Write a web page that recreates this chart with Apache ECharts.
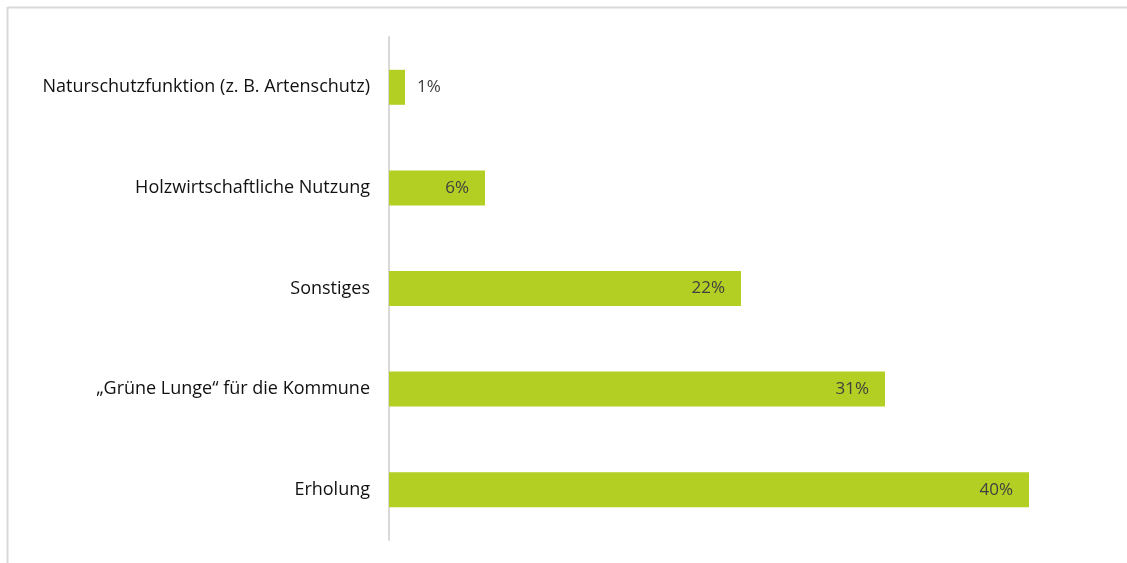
<!DOCTYPE html>
<html>
<head>
<meta charset="utf-8">
<script src="https://cdn.jsdelivr.net/npm/echarts@6/dist/echarts.min.js"></script>
<style>
  html, body { margin: 0; padding: 0; background: #ffffff; }
  #chart { width: 1127px; height: 563px; }
</style>
</head>
<body>
<div id="chart"></div>
<script>
// Categories listed bottom to top (category axis on y starts at the bottom)
const categories = [
  'Erholung',
  '\u201EGr\u00FCne Lunge\u201C f\u00FCr die Kommune',
  'Sonstiges',
  'Holzwirtschaftliche Nutzung',
  'Naturschutzfunktion (z. B. Artenschutz)'
];
const shares = [40, 31, 22, 6, 1];

const FONT = '"Open Sans", Lato, sans-serif';

const chart = echarts.init(document.getElementById('chart'));

const option = {
  animation: false,
  backgroundColor: '#ffffff',
  textStyle: { fontFamily: FONT },
  graphic: [
    { type: 'line', shape: { x1: 8, y1: 7.5, x2: 1127, y2: 7.5 }, style: { stroke: '#d9d9d9', lineWidth: 2 } },
    { type: 'line', shape: { x1: 7.5, y1: 7, x2: 7.5, y2: 563 }, style: { stroke: '#d9d9d9', lineWidth: 2 } }
  ],
  grid: { left: 389, right: 98, top: 37, bottom: 23, containLabel: false },
  xAxis: {
    type: 'value',
    min: 0,
    max: 40,
    show: false
  },
  yAxis: {
    type: 'category',
    data: categories,
    axisLine: { show: true, lineStyle: { color: '#d9d9d9', width: 2 } },
    axisTick: { show: false },
    axisLabel: {
      color: '#111111',
      fontSize: 18,
      margin: 19,
      fontFamily: FONT
    }
  },
  series: [{
    type: 'bar',
    data: shares.map(v => ({
      value: v,
      label: v < 3
        ? { position: 'right', distance: 12 }
        : { position: 'insideRight', offset: [-11, 0] }
    })),
    barWidth: 35,
    itemStyle: { color: '#b3cf24' },
    label: {
      show: true,
      formatter: '{c}%',
      color: '#404040',
      fontSize: 17,
      fontFamily: FONT
    }
  }]
};

chart.setOption(option);
</script>
</body>
</html>
